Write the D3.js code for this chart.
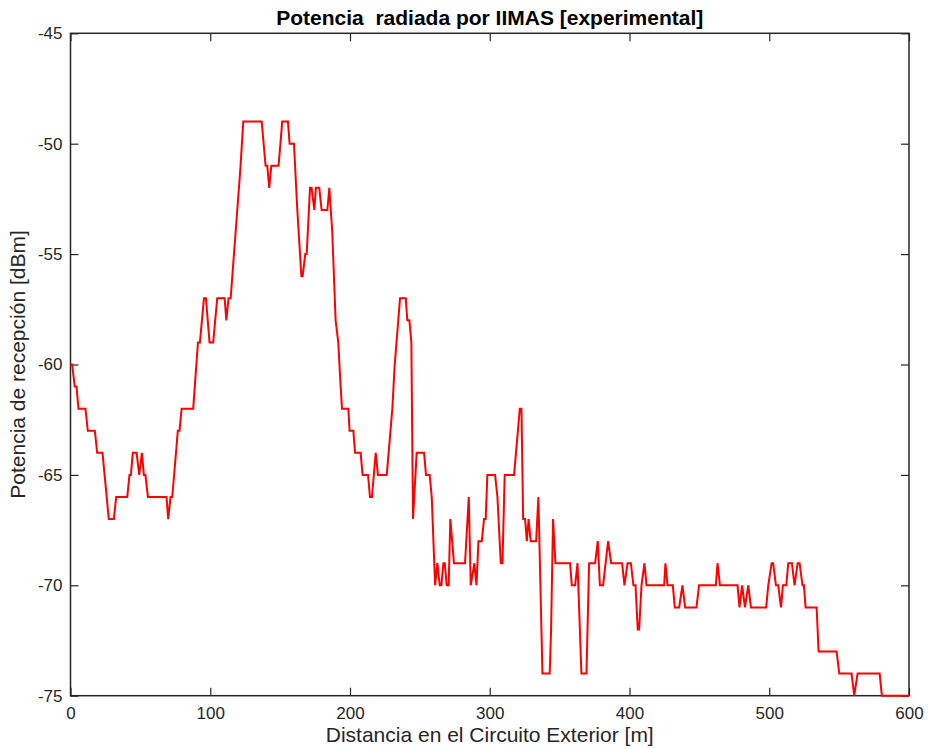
<!DOCTYPE html>
<html>
<head>
<meta charset="utf-8">
<script src="https://cdn.jsdelivr.net/npm/d3@7"></script>
<style>
  html, body { margin: 0; padding: 0; background: #fff; }
  svg { display: block; font-family: "Liberation Sans", Arial, Helvetica, sans-serif; }
</style>
</head>
<body>
<svg id="chart" width="928" height="749"></svg>
<script>
// Measured received power along the exterior circuit
const distance = [
  0, 1.2, 3, 4.3, 5.7, 10.7, 12.4, 17.4, 19.1, 22.9, 27.4, 31, 32.7, 40.6, 42.2, 43.2,
  44.6, 47.3, 49.2, 51.1, 52.5, 53.6, 55.4, 68.7, 69.9, 71.6, 72.8, 76.8, 78, 79.5,
  87.8, 91.2, 92.6, 95.5, 96.9, 99.5, 102.1, 105, 110.3, 111.5, 113.1, 114.6, 121.7,
  123.6, 136.8, 139.6, 140.8, 142.2, 143.7, 148.9, 151.5, 155.6, 156.8, 159.9, 162.3,
  165.2, 166.1, 168, 169, 171.4, 172.5, 174.5, 175.6, 178, 179.7, 183.8, 185.2, 187.3,
  189.7, 191.6, 193.3, 194.3, 198.8, 199.7, 202.4, 203.6, 207.6, 209, 212.9, 214.3,
  215.7, 218.4, 220, 226.3, 230.3, 232, 235.8, 239.9, 241, 242.5, 243.9, 245.1, 247.7,
  253, 254.4, 257, 258.5, 260.9, 262.5, 264.2, 265.4, 266.8, 267.8, 269.2, 270.6,
  271.8, 274.4, 282.3, 285, 286.4, 289, 290.5, 291.9, 294.3, 295.9, 297.1, 298.3,
  303.8, 305.5, 307.9, 309.1, 310.7, 317.4, 321.5, 322.7, 323.9, 325.3, 326.5, 327.8,
  329.3, 333.2, 334.8, 337.7, 342.9, 343.9, 345.3, 347, 357.5, 358.7, 361.1, 362.8,
  365.6, 369.2, 371.1, 375.4, 377.3, 378.8, 381.1, 384.7, 386.9, 394.7, 396.4, 398.6,
  401, 402.8, 404.3, 405.9, 406.9, 408.6, 410.7, 412.2, 424.8, 425.7, 427.2, 431,
  432.4, 435.5, 437.9, 439.8, 447.9, 449.8, 461.8, 463, 464.7, 477.3, 478.7, 480.6,
  482.6, 485, 486.9, 497.8, 499.3, 501.7, 502.8, 504.8, 506.4, 508.4, 509.8, 512.2,
  513.6, 516.2, 518.1, 520.3, 521.7, 523.8, 524.8, 526, 533.9, 535.3, 548.2, 550.1,
  558.9, 560.8, 563.2, 579, 580.6, 600
];
const power = [
  -60, -60, -61, -61, -62, -62, -63, -63, -64, -64, -67, -67, -66, -66, -65, -65,
  -64, -64, -65, -64, -65, -65, -66, -66, -67, -66, -66, -63, -63, -62,
  -62, -59, -59, -57, -57, -59, -59, -57, -57, -58, -57, -57, -51,
  -49, -49, -51, -51, -52, -51, -51, -49, -49, -50, -50, -53,
  -56, -56, -55, -55, -52, -52, -53, -52, -52, -53, -53, -52, -54,
  -58, -59, -61, -62, -62, -63, -63, -64, -64, -65, -65, -66,
  -66, -64, -65, -65, -62, -60, -57, -57, -58, -58, -59, -67, -64,
  -64, -65, -65, -66, -70, -69, -70, -70, -69, -69, -70, -70,
  -67, -69, -69, -66, -70, -69, -70, -68, -68, -67, -67, -65,
  -65, -66, -69, -69, -65, -65, -62, -62, -67, -67, -68, -67,
  -68, -68, -66, -74, -74, -72, -67, -69, -69, -70, -70, -69,
  -74, -74, -69, -69, -68, -70, -70, -68, -69, -69, -70, -69,
  -69, -70, -70, -72, -72, -70, -69, -70, -70, -69, -70, -70,
  -71, -71, -70, -71, -71, -70, -70, -69, -70, -70, -71, -70,
  -71, -70, -71, -71, -70, -69, -69, -70, -70, -71, -70, -70,
  -69, -69, -70, -69, -69, -70, -70, -71, -71, -73, -73, -74,
  -74, -75, -74, -74, -75, -75
];
const xTicks = [0, 100, 200, 300, 400, 500, 600];
const yTicks = [-45, -50, -55, -60, -65, -70, -75];

const titleText = "Potencia  radiada por IIMAS [experimental]";
const xLabelText = "Distancia en el Circuito Exterior [m]";
const yLabelText = "Potencia de recepción [dBm]";

const margin = { left: 70.5, right: 909, top: 33.3, bottom: 695.7 };
const axisColor = "#262626";

const svg = d3.select("#chart");

const x = d3.scaleLinear().domain([0, 600]).range([margin.left, margin.right]);
const y = d3.scaleLinear().domain([-75, -45]).range([margin.bottom, margin.top]);

const tickLen = 8;
const plainNumber = d => String(d);   // keeps an ASCII hyphen for negatives

function styleAxis(g) {
  g.select(".domain").remove();
  g.selectAll(".tick line").attr("stroke", axisColor).attr("stroke-width", 1.2);
  g.selectAll(".tick text")
    .attr("fill", axisColor)
    .style("font-size", "17px")
    .style("font-family", "'Liberation Sans', Arial, sans-serif");
}

// bottom axis (ticks point inward)
svg.append("g")
  .attr("transform", `translate(0,${margin.bottom})`)
  .call(d3.axisBottom(x).tickValues(xTicks).tickSize(-tickLen).tickPadding(11).tickFormat(plainNumber))
  .call(styleAxis);

// top mirror ticks
svg.append("g")
  .attr("transform", `translate(0,${margin.top})`)
  .call(d3.axisTop(x).tickValues(xTicks).tickSize(-tickLen).tickFormat(""))
  .call(styleAxis);

// left axis
svg.append("g")
  .attr("transform", `translate(${margin.left},0)`)
  .call(d3.axisLeft(y).tickValues(yTicks).tickSize(-tickLen).tickPadding(8).tickFormat(plainNumber))
  .call(styleAxis);

// right mirror ticks
svg.append("g")
  .attr("transform", `translate(${margin.right},0)`)
  .call(d3.axisRight(y).tickValues(yTicks).tickSize(-tickLen).tickFormat(""))
  .call(styleAxis);

// box
svg.append("rect")
  .attr("x", margin.left)
  .attr("y", margin.top)
  .attr("width", margin.right - margin.left)
  .attr("height", margin.bottom - margin.top)
  .attr("fill", "none")
  .attr("stroke", axisColor)
  .attr("stroke-width", 1.5);

// data line
const line = d3.line()
  .x((d, i) => x(distance[i]))
  .y(d => y(d));

svg.append("path")
  .datum(power)
  .attr("d", line)
  .attr("fill", "none")
  .attr("stroke", "#ff0000")
  .attr("stroke-width", 2)
  .attr("stroke-linejoin", "miter");

// title
svg.append("text")
  .attr("x", (margin.left + margin.right) / 2)
  .attr("y", 25)
  .attr("text-anchor", "middle")
  .attr("fill", "#000")
  .style("font-size", "21px")
  .style("font-weight", "bold")
  .style("white-space", "pre")
  .text(titleText);

// x label
svg.append("text")
  .attr("x", (margin.left + margin.right) / 2)
  .attr("y", 742)
  .attr("text-anchor", "middle")
  .attr("fill", axisColor)
  .style("font-size", "21px")
  .text(xLabelText);

// y label
svg.append("text")
  .attr("transform", `translate(25,${(margin.top + margin.bottom) / 2}) rotate(-90)`)
  .attr("text-anchor", "middle")
  .attr("fill", axisColor)
  .style("font-size", "21px")
  .text(yLabelText);
</script>
</body>
</html>
